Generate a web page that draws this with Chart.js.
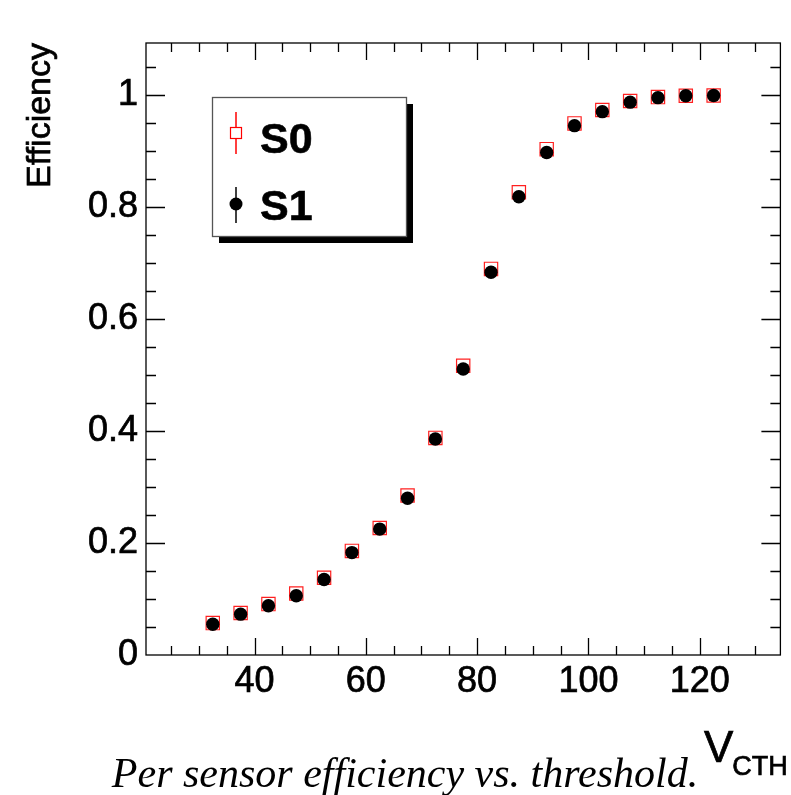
<!DOCTYPE html>
<html>
<head>
<meta charset="utf-8">
<script src="https://cdn.jsdelivr.net/npm/chart.js@4.4.1/dist/chart.umd.min.js"></script>
<style>
  html, body { margin: 0; padding: 0; background: #fff; }
  canvas { display: block; }
</style>
</head>
<body>
<canvas id="graficoEficiencia" width="791" height="795"></canvas>
<script>
const umbrales = [32.5, 37.5, 42.5, 47.5, 52.5, 57.5, 62.5, 67.5, 72.5, 77.5, 82.5, 87.5, 92.5, 97.5, 102.5, 107.5, 112.5, 117.5, 122.5];
const eficienciaS0 = [0.057, 0.075, 0.091, 0.110, 0.138, 0.186, 0.227, 0.285, 0.388, 0.517, 0.690, 0.827, 0.904, 0.950, 0.974, 0.990, 0.997, 0.9995, 1.0];
const eficienciaS1 = [0.055, 0.073, 0.088, 0.106, 0.135, 0.183, 0.225, 0.280, 0.386, 0.511, 0.684, 0.819, 0.898, 0.946, 0.971, 0.988, 0.996, 0.9995, 1.0];
const ticksX = [40, 60, 80, 100, 120];
const ticksY = [0, 0.2, 0.4, 0.6, 0.8, 1];
const nombres = ['S0', 'S1'];

const sans = "'Liberation Sans', Arial, Helvetica, sans-serif";
const serif = "'Liberation Serif', 'Times New Roman', serif";

// marco, ticks hacia dentro, leyenda y textos al estilo ROOT
const estiloRoot = {
  id: 'estiloRoot',
  beforeDatasetsDraw(chart) {
    const { ctx, chartArea: a, scales: { x, y } } = chart;
    ctx.save();
    ctx.strokeStyle = '#000';
    ctx.lineWidth = 1.3;
    ctx.beginPath();
    for (let v = 25; v <= 130; v += 5) {
      const px = Math.round(x.getPixelForValue(v)) + 0.5;
      const largo = v % 20 === 0 ? 17 : 9;
      ctx.moveTo(px, a.bottom); ctx.lineTo(px, a.bottom - largo);
      ctx.moveTo(px, a.top); ctx.lineTo(px, a.top + largo);
    }
    for (let i = 1; i <= 21; i++) {
      const py = Math.round(y.getPixelForValue(i * 0.05)) + 0.5;
      const largo = i % 4 === 0 ? 19 : 10;
      ctx.moveTo(a.left, py); ctx.lineTo(a.left + largo, py);
      ctx.moveTo(a.right, py); ctx.lineTo(a.right - largo, py);
    }
    ctx.stroke();
    ctx.strokeRect(a.left, a.top, a.right - a.left, a.bottom - a.top);
    ctx.restore();
  },
  afterDraw(chart) {
    const { ctx, chartArea: a } = chart;
    ctx.save();

    // leyenda con sombra
    ctx.fillStyle = '#000';
    ctx.fillRect(219, 104, 194, 139);
    ctx.fillStyle = '#fff';
    ctx.fillRect(212, 97, 195, 140);
    ctx.strokeStyle = '#555';
    ctx.lineWidth = 1.3;
    ctx.strokeRect(212.5, 97.5, 194, 139);

    ctx.lineWidth = 1.5;
    ctx.strokeStyle = '#ff0000';
    ctx.beginPath();
    ctx.moveTo(236, 112); ctx.lineTo(236, 127);
    ctx.moveTo(236, 139); ctx.lineTo(236, 154);
    ctx.stroke();
    ctx.lineWidth = 1.2;
    ctx.strokeRect(230.5, 127.5, 11, 11);

    ctx.strokeStyle = '#000';
    ctx.lineWidth = 1.5;
    ctx.beginPath();
    ctx.moveTo(236, 187); ctx.lineTo(236, 223);
    ctx.stroke();
    ctx.fillStyle = '#000';
    ctx.beginPath();
    ctx.arc(236, 204, 6.5, 0, Math.PI * 2);
    ctx.fill();

    ctx.font = 'bold 43px ' + sans;
    ctx.textAlign = 'left';
    ctx.textBaseline = 'alphabetic';
    ctx.lineWidth = 0.6;
    ctx.strokeStyle = '#000';
    ctx.fillText(nombres[0], 260, 153);
    ctx.strokeText(nombres[0], 260, 153);
    ctx.fillText(nombres[1], 260, 220);
    ctx.strokeText(nombres[1], 260, 220);

    // título eje y
    ctx.save();
    ctx.translate(50, a.top);
    ctx.rotate(-Math.PI / 2);
    ctx.font = '34px ' + sans;
    ctx.textAlign = 'right';
    ctx.lineWidth = 0.7;
    ctx.fillText('Efficiency', 0, 0);
    ctx.strokeText('Efficiency', 0, 0);
    ctx.restore();

    // título eje x
    ctx.lineWidth = 0.7;
    ctx.font = '44px ' + sans;
    ctx.textAlign = 'left';
    ctx.fillText('V', 704, 762);
    ctx.strokeText('V', 704, 762);
    const anchoV = ctx.measureText('V').width;
    ctx.font = '27px ' + sans;
    ctx.fillText('CTH', 703 + anchoV, 775);
    ctx.strokeText('CTH', 703 + anchoV, 775);

    // pie de figura
    ctx.font = 'italic 42px ' + serif;
    ctx.textAlign = 'center';
    ctx.fillText('Per sensor efficiency vs. threshold.', 405, 787);

    ctx.restore();
  }
};

const ctx = document.getElementById('graficoEficiencia').getContext('2d');
new Chart(ctx, {
  type: 'scatter',
  data: {
    datasets: [{
      label: nombres[0],
      data: umbrales.map((v, i) => ({ x: v, y: eficienciaS0[i] })),
      pointStyle: 'rect',
      pointRadius: 9.4,
      borderColor: '#ff2020',
      borderWidth: 1.2,
      backgroundColor: 'rgba(0,0,0,0)',
      order: 2
    }, {
      label: nombres[1],
      data: umbrales.map((v, i) => ({ x: v, y: eficienciaS1[i] })),
      pointStyle: 'circle',
      pointRadius: 6.7,
      borderWidth: 0,
      borderColor: '#000',
      backgroundColor: '#000',
      order: 1
    }]
  },
  options: {
    responsive: false,
    animation: false,
    devicePixelRatio: 1,
    layout: { padding: { left: 0, right: 7, top: 43, bottom: 0 } },
    plugins: {
      legend: { display: false },
      tooltip: { enabled: false }
    },
    scales: {
      x: {
        type: 'linear',
        min: 20.5,
        max: 134.5,
        grid: { display: false, drawTicks: false },
        border: { display: false },
        afterBuildTicks: s => { s.ticks = ticksX.map(v => ({ value: v })); },
        afterFit: s => { s.height = 140; },
        ticks: {
          autoSkip: false,
          maxRotation: 0,
          padding: 5,
          color: '#000',
          textStrokeColor: '#000',
          textStrokeWidth: 0.7,
          font: { family: sans, size: 36 },
          callback: v => String(v)
        }
      },
      y: {
        min: 0,
        max: 1.0937,
        grid: { display: false, drawTicks: false },
        border: { display: false },
        afterBuildTicks: s => { s.ticks = ticksY.map(v => ({ value: v })); },
        afterFit: s => { s.width = 146; },
        ticks: {
          autoSkip: false,
          padding: 8,
          color: '#000',
          textStrokeColor: '#000',
          textStrokeWidth: 0.7,
          font: { family: sans, size: 36 },
          callback: v => String(v)
        }
      }
    }
  },
  plugins: [estiloRoot]
});
</script>
</body>
</html>
